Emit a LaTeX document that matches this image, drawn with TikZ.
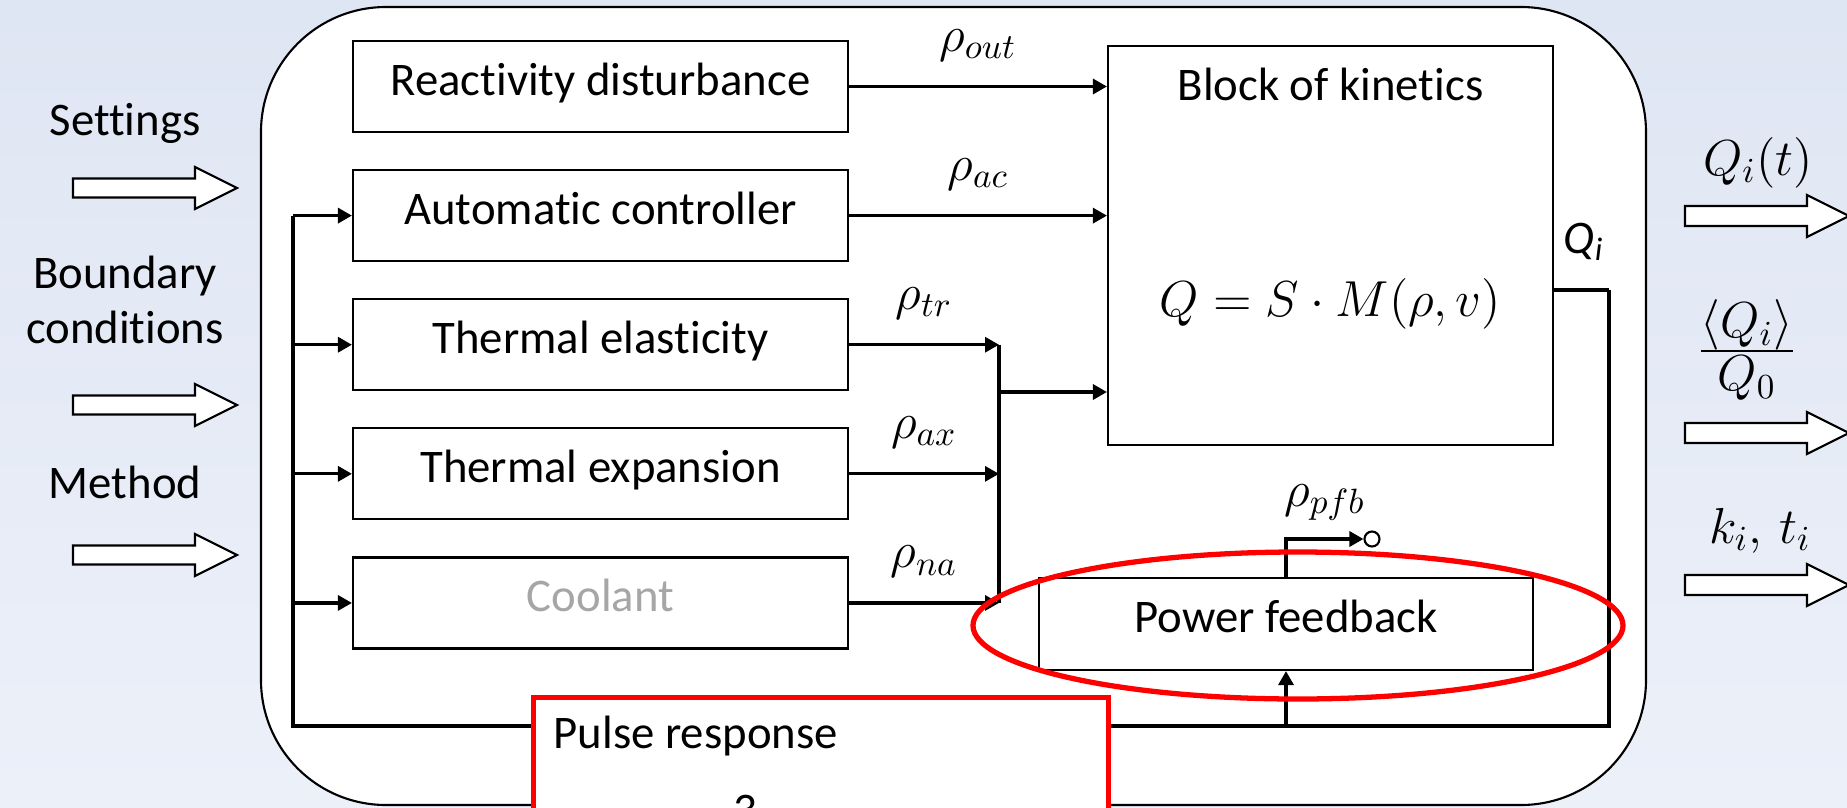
\documentclass[tikz,border=0pt]{standalone}
\usepackage{amsmath,amssymb}
\usepackage{fontspec}
\setmainfont{Carlito}[Ligatures=NoCommon]
\usepackage{xcolor}
\usepackage{tikz}
\usetikzlibrary{positioning,calc,arrows.meta}

\definecolor{bgtop}{RGB}{223,230,243}
\definecolor{bgbot}{RGB}{236,240,249}
\definecolor{coolgray}{RGB}{166,166,166}

\begin{document}
\begin{tikzpicture}[>={Triangle[length=1.4mm,width=1.5mm]}, node distance=0.36cm,
  box/.style={draw, line width=0.6pt, fill=white, minimum width=4.95cm, minimum height=0.91cm, inner sep=0pt,
    text height=9.4pt, text depth=4.5pt, font=\fontsize{13.3}{16}\selectfont},
  sig/.style={->, line width=0.9pt},
  bus/.style={line width=1.4pt},
  txt/.style={font=\fontsize{13.3}{16}\selectfont, inner sep=0pt},
  mth/.style={font=\fontsize{14}{17}\selectfont},
  fat/.style={draw, fill=white, line width=0.6pt}]
  \clip (0,0) rectangle (18.47,8.07);
  \shade[top color=bgtop, bottom color=bgbot] (0,0) rectangle (18.47,8.07);
  \draw[fill=white, line width=0.6pt, rounded corners=1.25cm] (2.61,0.02) rectangle (16.46,8.0);

  % inputs and outputs
  \node[txt, anchor=base] (set) at (1.25,6.72) {Settings};
  \node[txt, anchor=base] (bnd) at (1.25,5.19) {Boundary};
  \node[txt, anchor=base] (cnd) at (1.25,4.64) {conditions};
  \node[txt, anchor=base] (met) at (1.25,3.09) {Method};
  \foreach \y in {6.19,4.02,2.52}
    \draw[fat] (0.73,\y-0.095) -- (1.95,\y-0.095) -- (1.95,\y-0.21) -- (2.37,\y)
      -- (1.95,\y+0.21) -- (1.95,\y+0.095) -- (0.73,\y+0.095) -- cycle;
  \foreach \y in {5.91,3.74,2.22}
    \draw[fat] (16.85,\y-0.1) -- (18.07,\y-0.1) -- (18.07,\y-0.21) -- (18.49,\y)
      -- (18.07,\y+0.21) -- (18.07,\y+0.1) -- (16.85,\y+0.1) -- cycle;
  \node[mth, anchor=base] (qt) at (17.58,6.32) {$Q_i(t)$};
  \node[font=\fontsize{14}{14.5}\selectfont, inner sep=0pt] (qm) at (17.47,4.57)
    {\renewcommand\arraystretch{0.5}\begin{tabular}{@{}c@{}}$\langle Q_i\rangle$\\\hline\rule{0pt}{11pt}$Q_0$\end{tabular}};
  \node[mth, anchor=base] (kt) at (17.6,2.64) {$k_i,\, t_i$};

  % blocks
  \node[box] (RD) at (6.005,7.205) {Reactivity disturbance};
  \node[box] (AC) [below=of RD] {Automatic controller};
  \node[box] (TE) [below=of AC] {Thermal elasticity};
  \node[box] (TX) [below=of TE] {Thermal expansion};
  \node[box, text=coolgray] (CO) [below=of TX] {Coolant};
  \node[box, minimum width=4.45cm, minimum height=3.99cm] (KIN) at (13.305,5.615) {};
  \node[txt] (KINt) at ($(KIN.north)+(0,-0.39)$) {Block of kinetics};
  \node[font=\fontsize{14.5}{17}\selectfont] (KINf) at (13.305,5.03) {$Q = S\cdot M(\rho, v)$};
  \node[box, minimum width=4.94cm, minimum height=0.92cm] (PF) at (12.86,1.83) {Power feedback};

  % reactivity signals
  \coordinate (jn) at (9.99,4.15);
  \draw[sig] (RD.east) -- node[mth, above=3.5pt] {$\rho_{out}$} (RD.east -| KIN.west);
  \draw[sig] (AC.east) -- node[mth, above=3.5pt] {$\rho_{ac}$} (AC.east -| KIN.west);
  \draw[sig] (TE.east) -- node[mth, above=3.5pt] {$\rho_{tr}$} (TE.east -| jn);
  \draw[sig] (TX.east) -- node[mth, above=3.5pt] {$\rho_{ax}$} (TX.east -| jn);
  \draw[sig] (CO.east) -- node[mth, above=3.5pt] {$\rho_{na}$} (CO.east -| jn);
  \draw[line width=1.1pt] (TE.east -| jn) -- (CO.east -| jn);
  \draw[sig] (jn) -- (jn -| KIN.west);

  % feedback loop
  \coordinate (busL) at (2.93,0.81);
  \coordinate (busR) at (16.09,0.81);
  \coordinate (qi) at (16.09,5.17);
  \draw[line width=0.9pt] (KIN.east |- qi) -- (qi);
  \node[txt, anchor=base] (qlab) at (15.84,5.54) {\textit{Q}\textsubscript{\textit{i}}};
  \draw[bus] (qi) -- (busR) -- (busL) -- (busL |- AC.west);
  \foreach \n in {AC,TE,TX,CO}
    \draw[sig] (busL |- \n.west) -- (\n.west);
  \draw[sig] (PF.south |- busL) -- (PF.south);
  \node[circle, draw, fill=white, line width=0.6pt, inner sep=0pt, minimum size=0.15cm] (pfbo) at (13.72,2.68) {};
  \draw[sig] (PF.north) |- node[mth, pos=0.75, above=1.5pt] {$\rho_{pfb}$} (pfbo.west);

  % highlights
  \node[draw=red, fill=white, line width=1.5pt, minimum width=5.75cm, minimum height=1.6cm, anchor=north west] (PR) at (5.31,1.12) {};
  \node[txt, anchor=base west] (PRt) at (5.53,0.59) {Pulse response};
  \node[txt, anchor=base] (PR3) at (7.45,-0.18) {3};
  \draw[red, line width=1.5pt] (12.98,1.815) ellipse (3.25cm and 0.735cm);
\end{tikzpicture}
\end{document}
